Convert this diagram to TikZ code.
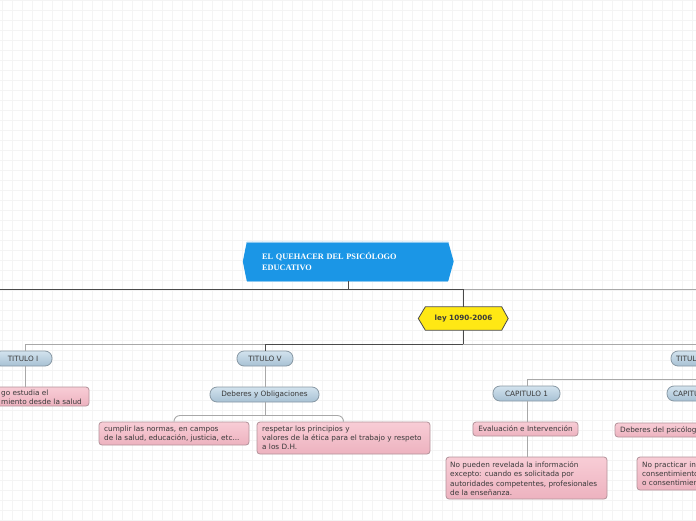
\documentclass[tikz,border=0pt]{standalone}
\usepackage{fontspec}
\setmainfont{DejaVu Sans}
\newfontfamily\titlefont{Liberation Serif}
\usetikzlibrary{calc}
\pgfdeclarelayer{grid}
\pgfdeclarelayer{bg}
\pgfsetlayers{grid,bg,main}
\definecolor{gridc}{HTML}{F4F4F4}
\definecolor{mainblue}{HTML}{1B96E6}
\definecolor{mainedge}{HTML}{8CC8F0}
\definecolor{leyyel}{HTML}{FFE814}
\definecolor{darkline}{HTML}{4A4A4A}
\definecolor{lightline}{HTML}{A8A8A8}
\definecolor{pilltop}{HTML}{D3E3EE}
\definecolor{pillbot}{HTML}{A7C1D4}
\definecolor{pilledge}{HTML}{8898A4}
\definecolor{pinktop}{HTML}{F8CDD6}
\definecolor{pinkbot}{HTML}{EDB2BF}
\definecolor{pinkedge}{HTML}{B3929A}
\definecolor{txt}{HTML}{3A3A3A}
\tikzset{
  pill/.style={rectangle, rounded corners=7pt, draw=pilledge, line width=0.8pt,
    top color=pilltop, bottom color=pillbot, minimum height=15pt, inner sep=0pt,
    font=\fontsize{7.3}{8}\selectfont, text=txt},
  pinkbox/.style={rectangle, rounded corners=3pt, draw=pinkedge, line width=0.8pt,
    top color=pinktop, bottom color=pinkbot, inner sep=0pt,
    font=\fontsize{7.3}{9.3}\selectfont, text=txt},
  pinktext/.style={anchor=north west, inner sep=0pt, align=left,
    font=\fontsize{7.3}{9.3}\selectfont, text=txt},
  dk/.style={draw=darkline, line width=0.9pt},
  lt/.style={draw=lightline, line width=0.9pt},
}
\begin{document}
\begin{tikzpicture}[x=1pt,y=-1pt]
\useasboundingbox (0,0) rectangle (696,520);
\begin{pgfonlayer}{grid}
\fill[white] (0,0) rectangle (696,520);
\foreach \i in {2,12,...,692} \draw[gridc, line width=0.5pt] (\i,0) -- (\i,520);
\foreach \j in {0,10,...,520} \draw[gridc, line width=0.5pt] (0,\j) -- (696,\j);
\end{pgfonlayer}

% main node
\node[rectangle, minimum width=201pt, minimum height=39pt, text width=171pt,
  inner xsep=15pt, inner ysep=0pt, align=left, text=white,
  font=\titlefont\bfseries\fontsize{8.3}{11}\selectfont] (main) at (347.5,261.5)
  {EL QUEHACER DEL PSICÓLOGO\\EDUCATIVO};
% ley node
\node[rectangle, minimum width=76pt, minimum height=23pt, inner sep=0pt,
  font=\bfseries\fontsize{7.2}{8}\selectfont, text=txt] (ley) at (463.5,318.5) {ley 1090-2006};

\begin{pgfonlayer}{bg}
\fill[mainblue] (main.north west) -- (main.north east) -- ($(main.east)+(5.5,0)$)
  -- (main.south east) -- (main.south west) -- ($(main.west)+(-4,0)$) -- cycle;
\draw[mainedge, line width=0.6pt] (main.north west) -- (main.north east);
\draw[mainedge, line width=0.6pt] (main.south west) -- (main.south east);
\draw[fill=leyyel, draw=darkline, line width=0.8pt] (ley.north west) -- (ley.north east)
  -- ($(ley.east)+(6.5,0)$) -- (ley.south east) -- (ley.south west)
  -- ($(ley.west)+(-7,0)$) -- cycle;
\end{pgfonlayer}

% level pills
\node[pill, minimum width=58pt] (t1) at (23,358.5) {TITULO I};
\node[pill, minimum width=56pt] (t5) at (265,358.5) {TITULO V};
\node[pill, minimum width=64pt, text width=54pt, align=left] (t7) at (703,358.5) {TITULO};
\node[pill, minimum width=109pt] (dyo) at (264.5,394.5) {Deberes y Obligaciones};
\node[pill, minimum width=67pt] (c1) at (526.5,393.5) {CAPITULO 1};
\node[pill, minimum width=70pt, text width=58pt, align=left] (c2) at (702,393.5) {CAPITULO};

% pink boxes
\node[pinkbox, minimum width=150pt, minimum height=19pt] (b1) at (14,396.5) {};
\node[pinktext] at (1,389.8) {go estudia el\\miento desde la salud};

\node[pinkbox, minimum width=150pt, minimum height=23pt] (cum) at (174,433.5) {};
\node[pinktext] at (104,425.8) {cumplir las normas, en campos\\de la salud, educación, justicia, etc...};

\node[pinkbox, minimum width=173pt, minimum height=32pt] (res) at (343.5,438) {};
\node[pinktext] at (262,425.5) {respetar los principios y\\valores de la ética para el trabajo y respeto\\a los D.H.};

\node[pinkbox, minimum width=105pt, minimum height=14pt] (ev) at (525.5,429) {Evaluación e Intervención};

\node[pinkbox, minimum width=161pt, minimum height=42pt] (np) at (526.5,478) {};
\node[pinktext] at (450,461.5) {No pueden revelada la información\\excepto: cuando es solicitada por\\autoridades competentes, profesionales\\de la enseñanza.};

\node[pinkbox, minimum width=110pt, minimum height=14pt] (dp) at (670,430) {};
\node[pinktext, anchor=west] at (620,430) {Deberes del psicólogo};

\node[pinkbox, minimum width=110pt, minimum height=33pt] (npr) at (692,473.5) {};
\node[pinktext] at (642,461.5) {No practicar in\\consentimiento\\o consentimien};

% connectors
\coordinate (jmain) at (348,289);
\coordinate (L0) at (0,289);
\coordinate (R0) at (696,289);
\coordinate (jley) at (463,289);
\draw[dk] (main.south -| jmain) -- (jmain);
\draw[dk] (L0) -- (jley);
\draw[lt] (jley) -- (R0);
\draw[dk] (jley) -- (ley.north -| jley);
\coordinate (j2) at (463,344);
\draw[dk] (ley.south -| j2) -- (j2);
\draw[dk] (j2) -- (265,344) -- (t5.north);
\draw[lt] (265,344) -- (25,344) -- (t1.north -| 25,0);
\draw[lt] (j2) -- (696,344);
\draw[lt] (t1.south -| 25,0) -- (b1.north -| 25,0);
\draw[lt] (t5.south) -- (dyo.north -| t5.south);
\coordinate (jd) at (265,415.5);
\draw[lt] (dyo.south -| jd) -- (jd);
\draw[lt, rounded corners=6pt] (jd) -- (174,415.5) -- (cum.north);
\draw[lt, rounded corners=6pt] (jd) -- (343.5,415.5) -- (res.north);
\draw[lt] (527,379.5) -- (696,379.5);
\draw[lt] (527,379.5) -- (c1.north -| 527,0);
\draw[lt] (c1.south -| 527,0) -- (ev.north -| 527,0);
\draw[lt] (ev.south -| 527,0) -- (np.north -| 527,0);
\end{tikzpicture}
\end{document}
